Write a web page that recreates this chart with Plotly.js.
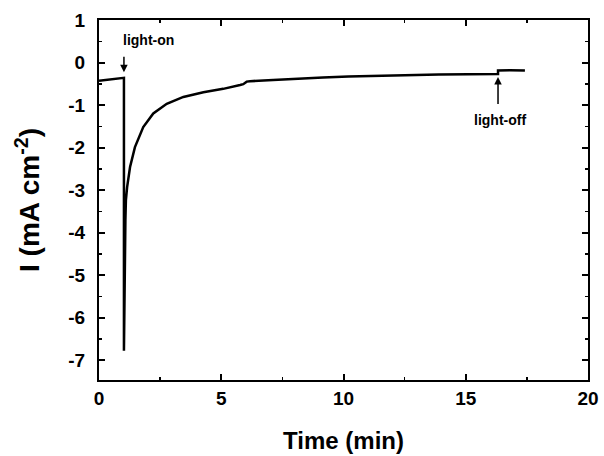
<!DOCTYPE html>
<html>
<head>
<meta charset="utf-8">
<script src="https://cdn.plot.ly/plotly-3.0.1.min.js"></script>
<style>html,body{margin:0;padding:0;background:#fff;}#chart{width:604px;height:456px;}</style>
</head>
<body>
<div id="chart"></div>
<script>
// Time (min)
const timeMin = [0, 0.3, 0.6, 0.9, 1.0, 1.02, 1.02, 1.05, 1.08, 1.1, 1.15, 1.27, 1.47, 1.81, 2.22, 2.77, 3.45, 4.27, 5.08, 5.77, 5.9, 6.04, 6.18, 7.12, 8.0, 9.16, 10.2, 11.2, 12.5, 13.9, 15.0, 16.27, 16.32, 16.32, 16.8, 17.42];
// Current density I (mA cm^-2)
const currentI = [-0.43, -0.41, -0.39, -0.37, -0.36, -0.36, -6.78, -4.2, -3.7, -3.24, -2.93, -2.46, -1.99, -1.52, -1.20, -0.97, -0.81, -0.70, -0.62, -0.53, -0.51, -0.45, -0.44, -0.41, -0.38, -0.35, -0.33, -0.31, -0.30, -0.28, -0.28, -0.27, -0.27, -0.19, -0.18, -0.19];
const xTicks = [0, 5, 10, 15, 20];
const yTicks = [1, 0, -1, -2, -3, -4, -5, -6, -7];
const labelOn = "light-on";
const labelOff = "light-off";

const font = "Arial, 'Liberation Sans', sans-serif";
const trace = {
  x: timeMin, y: currentI, type: 'scatter', mode: 'lines',
  line: {color: '#000', width: 2.5}, hoverinfo: 'skip'
};
const axisCommon = {
  showline: true, linecolor: '#000', linewidth: 2, mirror: 'ticks',
  ticks: 'inside', ticklen: 6, tickwidth: 2, tickcolor: '#000',
  showgrid: false, zeroline: false,
  tickfont: {family: font, size: 19, color: '#000', weight: 'bold'}
};
const layout = {
  width: 604, height: 456,
  margin: {l: 99, r: 16, t: 20, b: 76},
  paper_bgcolor: '#fff', plot_bgcolor: '#fff',
  showlegend: false,
  xaxis: Object.assign({}, axisCommon, {
    range: [0, 20], tickvals: xTicks, ticktext: xTicks.map(String),
    ticklabelstandoff: 0,
    minor: {dtick: 2.5, ticks: 'inside', ticklen: 3, tickwidth: 1.5, tickcolor: '#000'},
    title: {text: 'Time (min)', font: {family: font, size: 24, color: '#000', weight: 'bold'}, standoff: 24}
  }),
  yaxis: Object.assign({}, axisCommon, {
    range: [-7.47, 1], tickvals: yTicks, ticktext: yTicks.map(String),
    ticklabelstandoff: 8,
    minor: {dtick: 0.5, ticks: 'inside', ticklen: 3, tickwidth: 1.5, tickcolor: '#000'},
    title: {text: 'I (mA cm<sup>-2</sup>)', font: {family: font, size: 28, color: '#000', weight: 'bold'}, standoff: 20}
  }),
  annotations: [
    {x: 2.02, y: 0.52, xref: 'x', yref: 'y', text: labelOn, showarrow: false,
     font: {family: font, size: 14, color: '#000', weight: 'bold'}},
    {x: 1.02, y: -0.23, xref: 'x', yref: 'y', ax: 1.02, ay: 0.17, axref: 'x', ayref: 'y',
     text: '', showarrow: true, arrowhead: 2, arrowsize: 1, arrowwidth: 1.5, arrowcolor: '#000'},
    {x: 16.4, y: -1.36, xref: 'x', yref: 'y', text: labelOff, showarrow: false,
     font: {family: font, size: 14, color: '#000', weight: 'bold'}},
    {x: 16.32, y: -0.34, xref: 'x', yref: 'y', ax: 16.32, ay: -1.01, axref: 'x', ayref: 'y',
     text: '', showarrow: true, arrowhead: 2, arrowsize: 1, arrowwidth: 1.5, arrowcolor: '#000'}
  ]
};
Plotly.newPlot('chart', [trace], layout, {staticPlot: true, displayModeBar: false});
</script>
</body>
</html>
